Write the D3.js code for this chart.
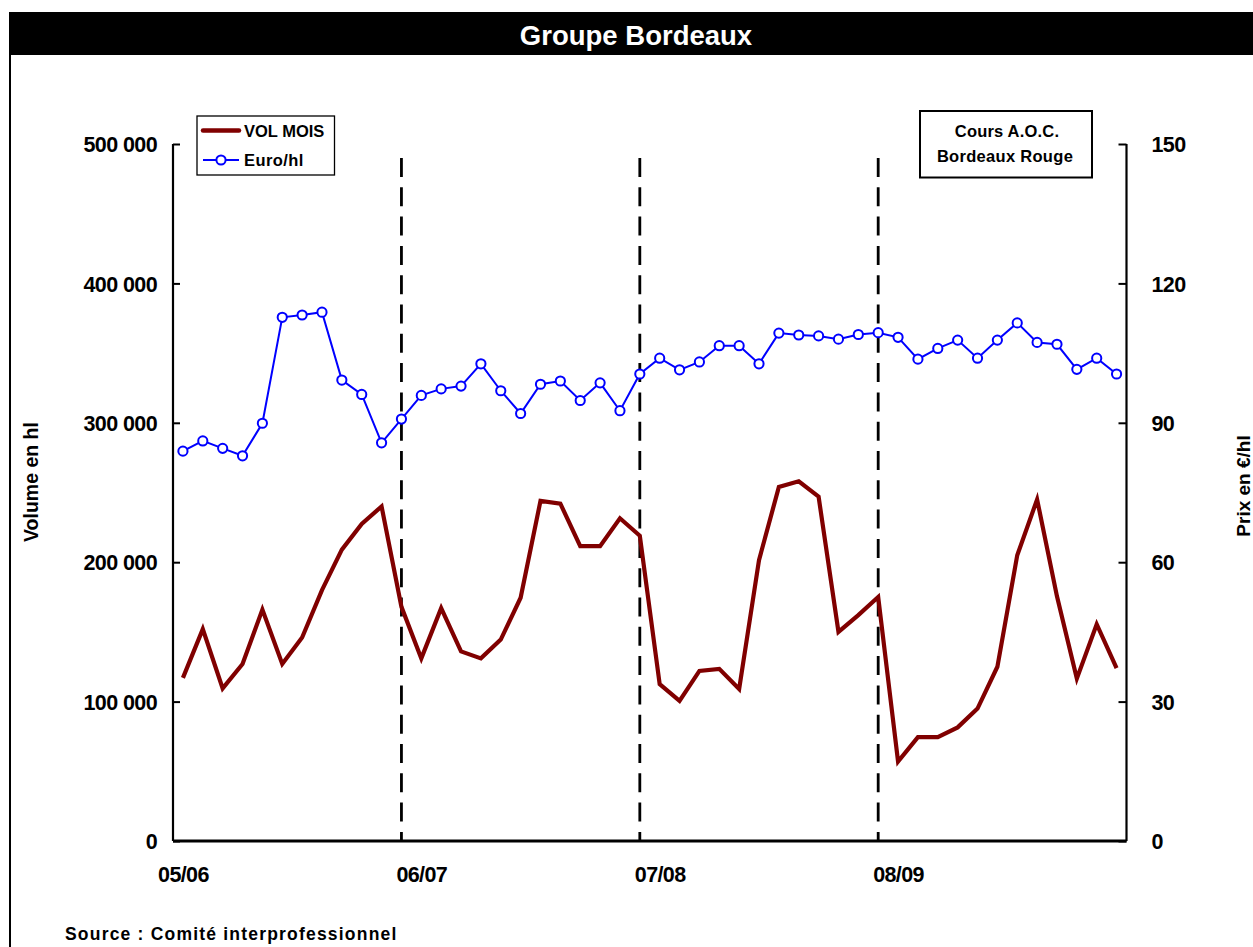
<!DOCTYPE html>
<html>
<head>
<meta charset="utf-8">
<script src="https://cdn.jsdelivr.net/npm/d3@7"></script>
<style>
  html, body { margin: 0; padding: 0; background: #fff; }
  svg { display: block; font-family: "Liberation Sans", Arial, sans-serif; font-weight: bold; }
</style>
</head>
<body>
<div id="chart"></div>
<script>
// ---- Data ----
const months = [
  "2005-08","2005-09","2005-10","2005-11","2005-12","2006-01","2006-02","2006-03","2006-04","2006-05","2006-06","2006-07",
  "2006-08","2006-09","2006-10","2006-11","2006-12","2007-01","2007-02","2007-03","2007-04","2007-05","2007-06","2007-07",
  "2007-08","2007-09","2007-10","2007-11","2007-12","2008-01","2008-02","2008-03","2008-04","2008-05","2008-06","2008-07",
  "2008-08","2008-09","2008-10","2008-11","2008-12","2009-01","2009-02","2009-03","2009-04","2009-05","2009-06","2009-07"
];
const volMois = [
  117000, 152000, 109500, 127000, 166000, 127000, 146000, 180000, 209000, 227500, 240000, 168000,
  131000, 167000, 136000, 131000, 144500, 174500, 244000, 242000, 211500, 211500, 231500, 219000,
  112500, 100500, 122000, 123500, 109000, 201500, 254000, 258000, 247000, 150000, 162000, 175000,
  57000, 74500, 74500, 81500, 95000, 125000, 205000, 245000, 175500, 116500, 155500, 124000
];
const euroHl = [
  83.9, 86.1, 84.5, 82.9, 89.9, 112.7, 113.2, 113.8, 99.2, 96.1, 85.7, 90.8,
  95.9, 97.3, 97.9, 102.7, 96.9, 92.0, 98.3, 99.0, 94.8, 98.6, 92.6, 100.5,
  103.9, 101.4, 103.1, 106.6, 106.6, 102.7, 109.3, 108.9, 108.7, 108.0, 109.0, 109.4,
  108.4, 103.7, 106.0, 107.8, 103.9, 107.8, 111.5, 107.3, 106.9, 101.5, 103.9, 100.5
];
const xTickMonths = ["2005-08", "2006-08", "2007-08", "2008-08"];
const xTickLabels = ["05/06", "06/07", "07/08", "08/09"];
const separatorMonths = ["2006-07", "2007-07", "2008-07"];
const leftTicks = [0, 100000, 200000, 300000, 400000, 500000];
const rightTicks = [0, 30, 60, 90, 120, 150];
const seriesNames = ["VOL MOIS", "Euro/hl"];

// ---- Layout ----
const W = 1253, H = 947;
const plot = { left: 173, right: 1126.5, top: 144, bottom: 841 };

const svg = d3.select("#chart").append("svg").attr("width", W).attr("height", H);

// Frame + title bar
svg.append("rect").attr("x", 10).attr("y", 12).attr("width", W - 10).attr("height", 43).attr("fill", "#000");
svg.append("line").attr("x1", 10).attr("x2", 10).attr("y1", 12).attr("y2", H).attr("stroke", "#000").attr("stroke-width", 2);
svg.append("text").attr("x", 636).attr("y", 44.5).attr("text-anchor", "middle")
  .attr("fill", "#fff").style("font-size", "27.5px").text("Groupe Bordeaux");

// Scales
const x = d3.scalePoint().domain(months).range([plot.left, plot.right]).padding(0.5);
const yL = d3.scaleLinear().domain([0, 500000]).range([plot.bottom, plot.top]);
const yR = d3.scaleLinear().domain([0, 150]).range([plot.bottom, plot.top]);

const fmtVol = d => d3.format(",")(d).replace(/,/g, " ");

// Left axis
const gL = svg.append("g").attr("transform", `translate(${plot.left},0)`)
  .call(d3.axisLeft(yL).tickValues(leftTicks).tickSize(-7).tickPadding(16).tickFormat(fmtVol));
gL.select(".domain").attr("stroke-width", 2.2).attr("d", `M0,${plot.top}V${plot.bottom}`);
gL.selectAll(".tick line").attr("stroke-width", 2);
gL.selectAll(".tick text").style("font-size", "21.5px").style("letter-spacing", "-0.6px")
  .attr("font-family", null).attr("fill", "#000").attr("dy", "0.36em");

// Right axis
const gR = svg.append("g").attr("transform", `translate(${plot.right},0)`)
  .call(d3.axisRight(yR).tickValues(rightTicks).tickSize(-8).tickPadding(25));
gR.select(".domain").attr("stroke-width", 2.2).attr("d", `M0,${plot.top}V${plot.bottom}`);
gR.selectAll(".tick line").attr("stroke-width", 2);
gR.selectAll(".tick text").style("font-size", "21.5px").style("letter-spacing", "-0.6px")
  .attr("font-family", null).attr("fill", "#000").attr("dy", "0.36em");

// X axis
const xTickScale = d3.scaleOrdinal().domain(xTickMonths).range(xTickLabels);
const gX = svg.append("g").attr("transform", `translate(0,${plot.bottom})`)
  .call(d3.axisBottom(x).tickValues(xTickMonths).tickSize(0).tickPadding(26).tickFormat(d => xTickScale(d)));
gX.select(".domain").attr("stroke-width", 3).attr("d", `M${plot.left},0H${plot.right}`);
gX.selectAll(".tick text").style("font-size", "21.5px").style("letter-spacing", "-0.6px")
  .attr("font-family", null).attr("fill", "#000");

// Separators (dashed)
svg.append("g").selectAll("line").data(separatorMonths).join("line")
  .attr("x1", d => x(d)).attr("x2", d => x(d))
  .attr("y1", 158).attr("y2", plot.bottom)
  .attr("stroke", "#000").attr("stroke-width", 2.8).attr("stroke-dasharray", "19,10.3");

// Axis titles
svg.append("text").attr("transform", "translate(38,482) rotate(-90)").attr("text-anchor", "middle")
  .style("font-size", "19.5px").text("Volume en hl");
svg.append("text").attr("transform", "translate(1250,486) rotate(-90)").attr("text-anchor", "middle")
  .style("font-size", "19px").text("Prix en €/hl");

// Red volume line
svg.append("path").datum(volMois)
  .attr("fill", "none").attr("stroke", "#800000").attr("stroke-width", 4.2).attr("stroke-linejoin", "miter")
  .attr("d", d3.line().x((d, i) => x(months[i])).y(d => yL(d)));

// Blue price line + markers
svg.append("path").datum(euroHl)
  .attr("fill", "none").attr("stroke", "#0000ff").attr("stroke-width", 2)
  .attr("d", d3.line().x((d, i) => x(months[i])).y(d => yR(d)));
svg.append("g").selectAll("circle").data(euroHl).join("circle")
  .attr("cx", (d, i) => x(months[i])).attr("cy", d => yR(d)).attr("r", 4.6)
  .attr("fill", "#fff").attr("stroke", "#0000ff").attr("stroke-width", 2);

// Legend
const lg = svg.append("g");
lg.append("rect").attr("x", 197).attr("y", 116).attr("width", 137.5).attr("height", 59)
  .attr("fill", "#fff").attr("stroke", "#000").attr("stroke-width", 1.3);
lg.append("line").attr("x1", 203).attr("x2", 239).attr("y1", 130.5).attr("y2", 130.5)
  .attr("stroke", "#800000").attr("stroke-width", 4.5).attr("stroke-linecap", "round");
lg.append("text").attr("x", 244).attr("y", 136.5).style("font-size", "16.5px").text(seriesNames[0]);
lg.append("line").attr("x1", 203).attr("x2", 239).attr("y1", 160).attr("y2", 160)
  .attr("stroke", "#0000ff").attr("stroke-width", 2);
lg.append("circle").attr("cx", 221).attr("cy", 160).attr("r", 4.6)
  .attr("fill", "#fff").attr("stroke", "#0000ff").attr("stroke-width", 2);
lg.append("text").attr("x", 244).attr("y", 165.5).style("font-size", "16.5px").style("letter-spacing", "0.4px").text(seriesNames[1]);

// Info box
const ib = svg.append("g");
ib.append("rect").attr("x", 920).attr("y", 111).attr("width", 172).attr("height", 66.5)
  .attr("fill", "#fff").attr("stroke", "#000").attr("stroke-width", 2);
ib.append("text").attr("x", 1007).attr("y", 137).attr("text-anchor", "middle")
  .style("font-size", "16.5px").style("letter-spacing", "0.2px").text("Cours A.O.C.");
ib.append("text").attr("x", 1005).attr("y", 162).attr("text-anchor", "middle")
  .style("font-size", "16.5px").style("letter-spacing", "0.3px").text("Bordeaux Rouge");

// Source
svg.append("text").attr("x", 65).attr("y", 940).style("font-size", "17.5px").style("letter-spacing", "1.2px")
  .text("Source : Comité interprofessionnel");
</script>
</body>
</html>
